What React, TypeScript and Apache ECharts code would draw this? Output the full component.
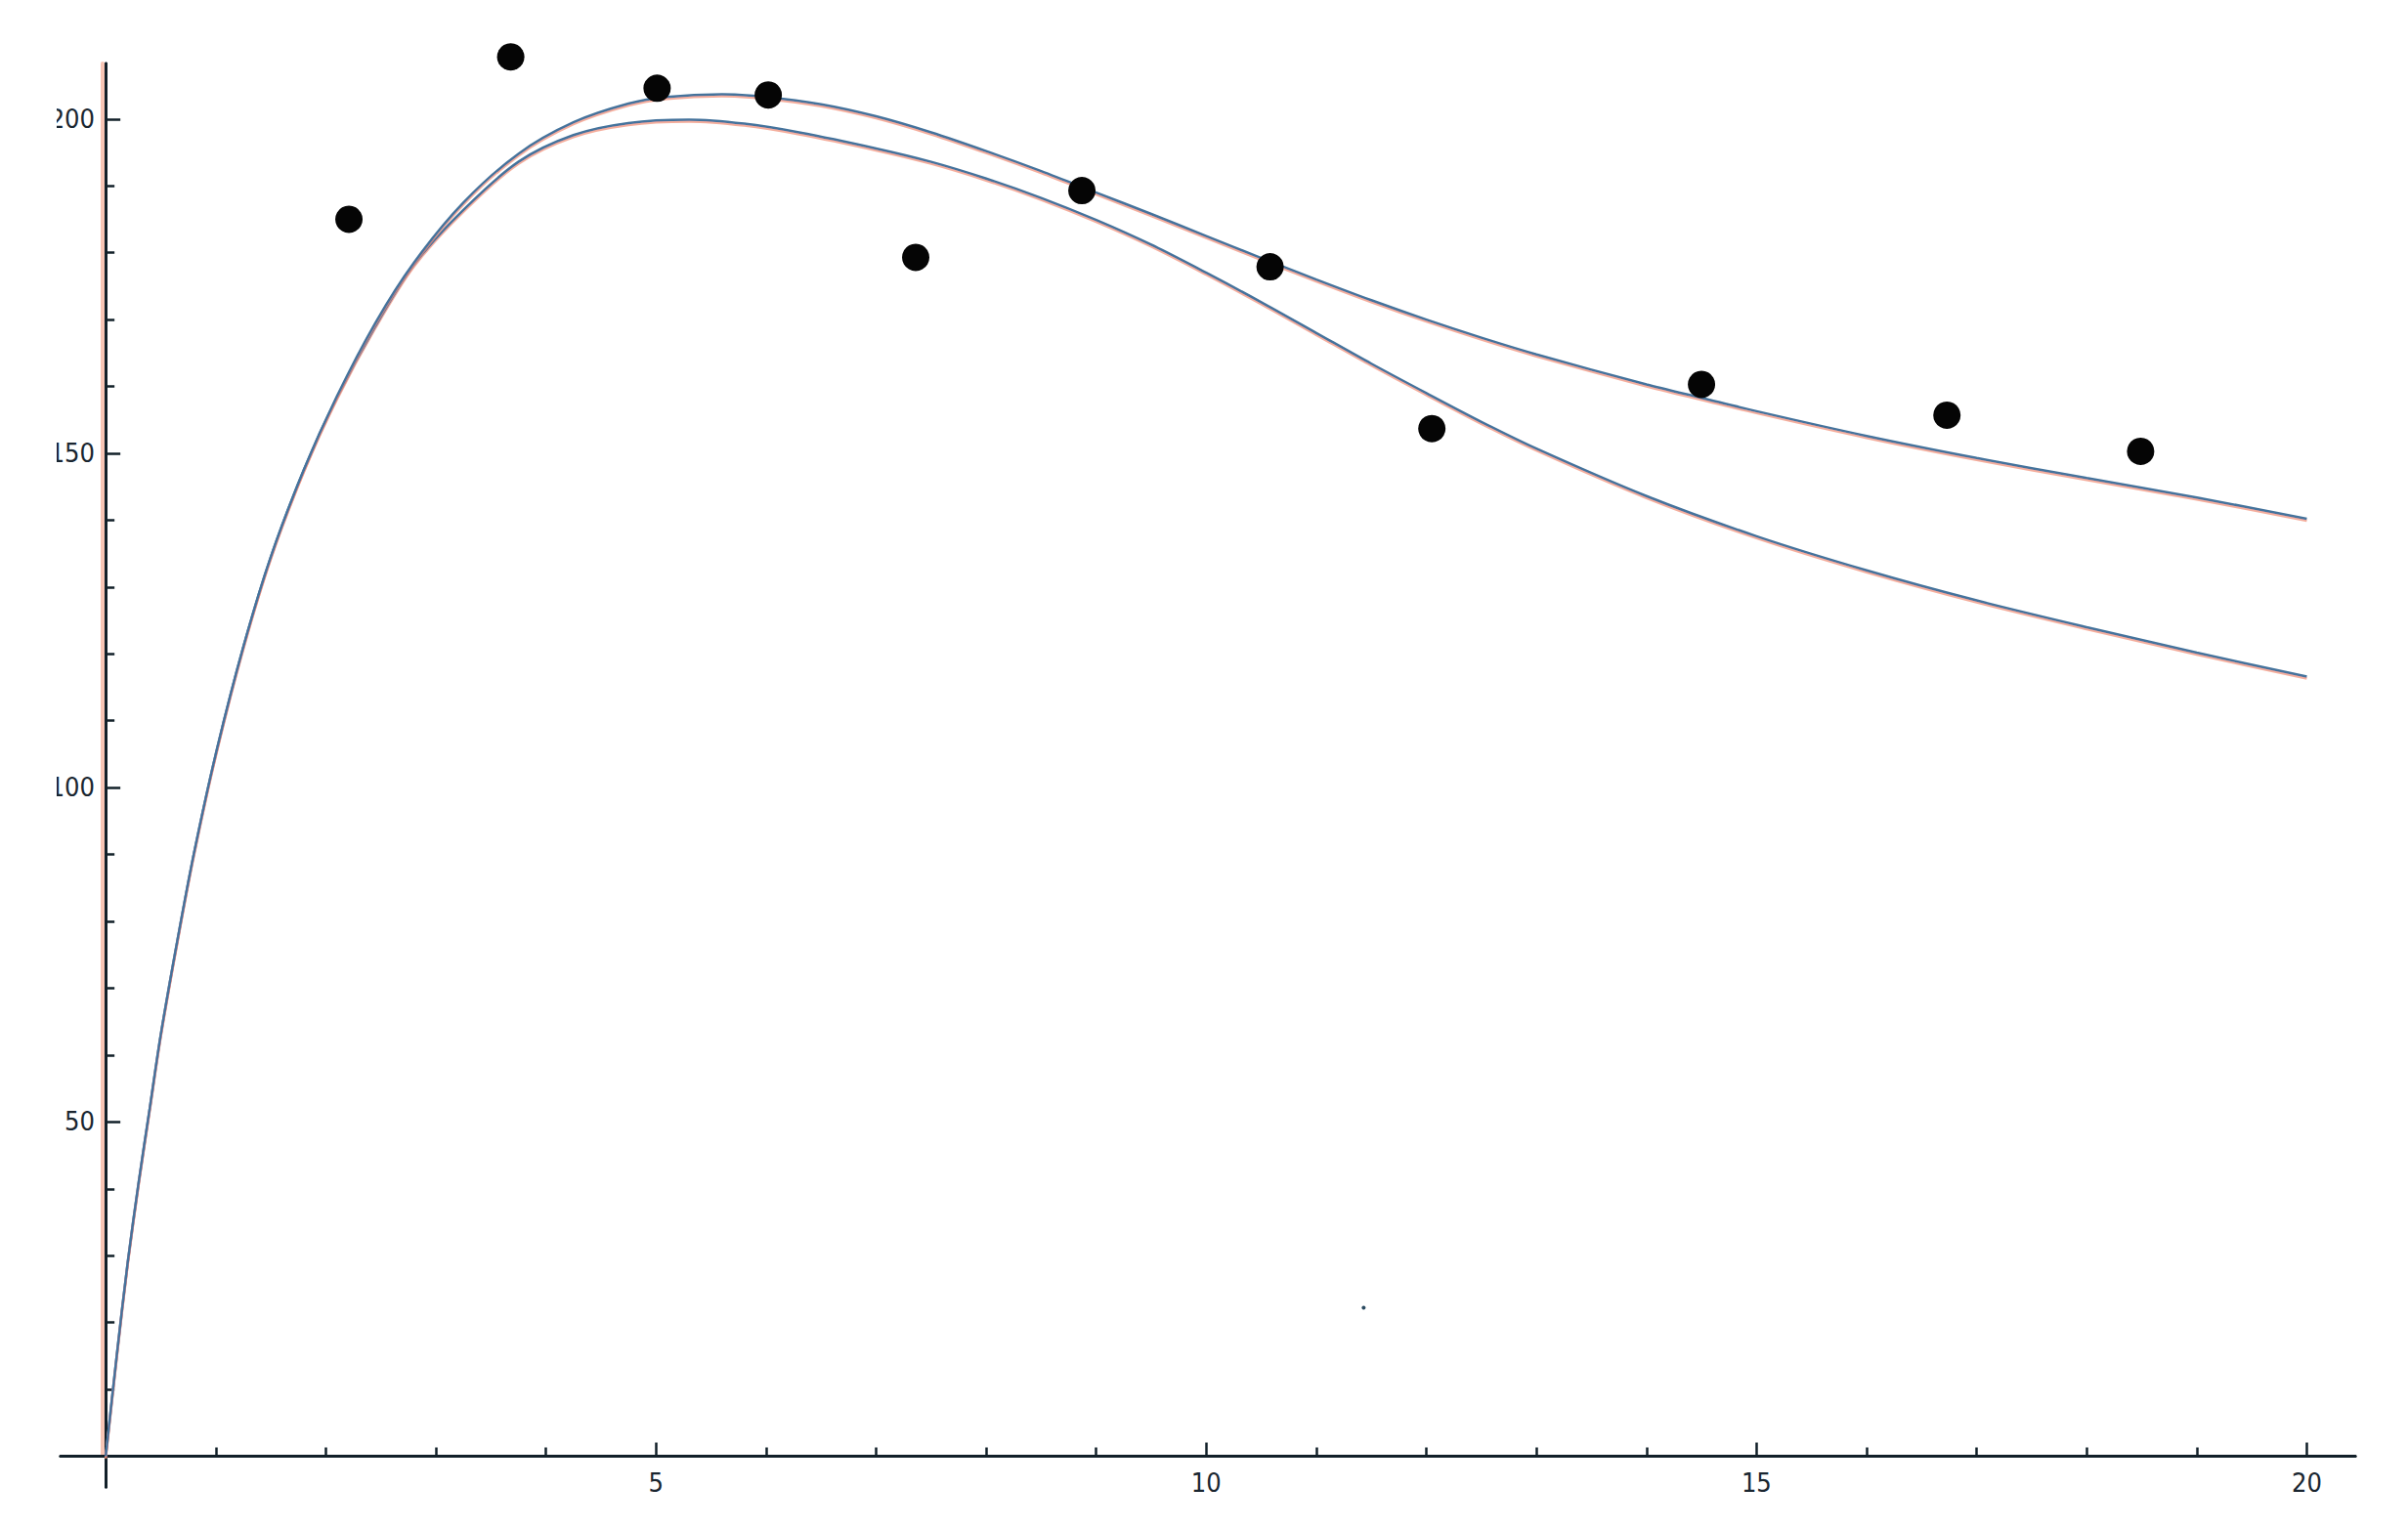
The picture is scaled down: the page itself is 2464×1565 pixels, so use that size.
import React, { useEffect, useRef } from "react";
import * as echarts from "echarts";

// Measured data points (black dots)
const pointX = [2.21, 3.68, 5.01, 6.02, 7.36, 8.87, 10.58, 12.05, 14.5, 16.73, 18.49];
const pointY = [185.0, 209.3, 204.6, 203.6, 179.3, 189.3, 177.9, 153.7, 160.3, 155.7, 150.3];

// Upper fitted curve
const upperX = [0, 0.1, 0.2, 0.3, 0.4, 0.5, 0.65, 0.8, 1.0, 1.25, 1.5, 1.8, 2.1, 2.45, 2.8, 3.25, 3.75, 4.25, 4.75, 5.1, 5.6, 6.0, 6.5, 7.0, 7.5, 8.0, 8.5, 9.0, 9.5, 10.0, 10.5, 11.0, 11.5, 12.0, 12.5, 13.0, 14.0, 14.5, 15.0, 16.0, 17.0, 18.0, 19.0, 20.0];
const upperY = [0, 15, 29, 41, 52, 63, 77, 90, 105, 121, 134.5, 147.5, 158.5, 169.5, 178.5, 187.5, 194.8, 199.5, 202.3, 203.3, 203.7, 203.3, 202.2, 200.4, 198.0, 195.2, 192.2, 189.0, 185.8, 182.5, 179.2, 176.0, 172.9, 170.0, 167.3, 164.8, 160.3, 158.3, 156.3, 152.6, 149.3, 146.3, 143.4, 140.2];

// Lower curve
const lowerX = [0, 0.1, 0.2, 0.3, 0.4, 0.5, 0.65, 0.8, 1.0, 1.25, 1.5, 1.8, 2.1, 2.45, 2.8, 3.25, 3.75, 4.25, 4.75, 5.3, 5.8, 6.3, 7.0, 7.5, 8.0, 8.5, 9.0, 9.5, 10.0, 10.5, 11.0, 11.5, 12.0, 12.5, 13.0, 14.0, 15.0, 16.0, 17.0, 18.0, 19.0, 20.0];
const lowerY = [0, 15, 29, 41, 52, 63, 77, 90, 105, 121, 134.5, 147.5, 158.3, 169.0, 178.2, 186.4, 193.6, 197.6, 199.4, 199.9, 199.3, 198.0, 195.6, 193.6, 191.1, 188.2, 184.9, 181.2, 177.0, 172.6, 168.0, 163.4, 159.0, 154.7, 150.7, 143.6, 137.6, 132.5, 128.0, 124.0, 120.2, 116.6];

// Small speck in the scan
const speckX = [11.43];
const speckY = [22.2];

// Axis ticks / labels
const xMajor = [5, 10, 15, 20];
const xMinor = [1, 2, 3, 4, 6, 7, 8, 9, 11, 12, 13, 14, 16, 17, 18, 19];
const yMajor = [50, 100, 150, 200];
const yMinor = [10, 20, 30, 40, 60, 70, 80, 90, 110, 120, 130, 140, 160, 170, 180, 190];

const zip = (xs: number[], ys: number[]) => xs.map((x, i) => [x, ys[i]]);

const AXIS_COLOR = "#122029";
const LABEL_COLOR = "#1a2630";
const LABEL_FONT = '"DejaVu Sans Condensed", "Liberation Sans Narrow", "DejaVu Sans", sans-serif';
const CURVE_COLOR = "#44739c";
const FRINGE = "rgba(240,140,115,0.7)";
const AXIS_FRINGE = "rgba(240,150,120,0.55)";

const X_MIN = -0.41;
const X_MAX = 20.44;
const Y_MIN = -4.6;
const Y_MAX = 208.3;

export default function App() {
  const ref = useRef<HTMLDivElement>(null);

  useEffect(() => {
    if (!ref.current) return;
    const chart = echarts.init(ref.current, undefined, { renderer: "svg" });

    // Grid 0: axis lines (on zero) with ticks
    const xTickAxis = (major: boolean) => ({
      type: "value" as const,
      gridIndex: 0,
      min: X_MIN,
      max: X_MAX,
      position: "bottom" as const,
      splitLine: { show: false },
      axisLine: {
        show: true,
        onZero: true,
        onZeroAxisIndex: 0,
        lineStyle: { color: AXIS_COLOR, width: 3 },
      },
      axisTick: {
        show: true,
        inside: true,
        length: major ? 14 : 9,
        customValues: major ? xMajor : xMinor,
        lineStyle: { color: AXIS_COLOR, width: 2.5 },
      },
      axisLabel: { show: false },
    });

    const yTickAxis = (major: boolean) => ({
      type: "value" as const,
      gridIndex: 0,
      min: Y_MIN,
      max: Y_MAX,
      position: "left" as const,
      splitLine: { show: false },
      axisLine: {
        show: true,
        onZero: true,
        onZeroAxisIndex: 0,
        lineStyle: { color: AXIS_COLOR, width: 3 },
      },
      axisTick: {
        show: true,
        inside: true,
        length: major ? 15 : 9,
        customValues: major ? yMajor : yMinor,
        lineStyle: { color: AXIS_COLOR, width: 2.5 },
      },
      axisLabel: { show: false },
    });

    // Grid 1: starts at the origin, carries the tick labels
    const xLabelAxis = {
      type: "value" as const,
      gridIndex: 1,
      min: 0,
      max: X_MAX,
      position: "bottom" as const,
      splitLine: { show: false },
      axisLine: { show: false, onZero: false },
      axisTick: { show: false },
      axisLabel: {
        show: true,
        customValues: xMajor,
        margin: 14,
        color: LABEL_COLOR,
        fontSize: 27,
        fontFamily: LABEL_FONT,
      },
    };

    const yLabelAxis = {
      type: "value" as const,
      gridIndex: 1,
      min: 0,
      max: Y_MAX,
      position: "left" as const,
      offset: 3.5,
      splitLine: { show: false },
      axisLine: { show: true, onZero: false, lineStyle: { color: AXIS_FRINGE, width: 4 } },
      axisTick: { show: false },
      axisLabel: {
        show: true,
        customValues: yMajor,
        margin: 7.5,
        color: LABEL_COLOR,
        fontSize: 27,
        fontFamily: LABEL_FONT,
      },
    };

    const curveStyle = {
      color: CURVE_COLOR,
      width: 2.5,
      shadowColor: FRINGE,
      shadowOffsetY: 2,
      shadowBlur: 1,
    };

    chart.setOption({
      animation: false,
      backgroundColor: "#ffffff",
      grid: [
        { left: 62, right: 54, top: 65, bottom: 43, containLabel: false },
        { left: 108, right: 54, top: 65, bottom: 75, containLabel: false },
      ],
      xAxis: [xTickAxis(true), xTickAxis(false), xLabelAxis],
      yAxis: [yTickAxis(true), yTickAxis(false), yLabelAxis],
      series: [
        {
          name: "lower",
          type: "line",
          xAxisIndex: 0,
          yAxisIndex: 0,
          data: zip(lowerX, lowerY),
          showSymbol: false,
          smooth: 0.3,
          clip: false,
          lineStyle: curveStyle,
          z: 3,
        },
        {
          name: "upper",
          type: "line",
          xAxisIndex: 0,
          yAxisIndex: 0,
          data: zip(upperX, upperY),
          showSymbol: false,
          smooth: 0.3,
          clip: false,
          lineStyle: curveStyle,
          z: 3,
        },
        {
          name: "data",
          type: "scatter",
          xAxisIndex: 0,
          yAxisIndex: 0,
          data: zip(pointX, pointY),
          symbol: "circle",
          symbolSize: 28,
          clip: false,
          itemStyle: { color: "#050505", opacity: 1 },
          z: 5,
        },
        {
          name: "speck",
          type: "scatter",
          xAxisIndex: 0,
          yAxisIndex: 0,
          data: zip(speckX, speckY),
          symbol: "circle",
          symbolSize: 4,
          clip: false,
          itemStyle: { color: "#2a4a60", opacity: 1 },
          z: 5,
        },
      ],
      graphic: [
        {
          type: "rect",
          left: 0,
          top: 0,
          z: 100,
          shape: { width: 58, height: 1565 },
          style: { fill: "#ffffff" },
        },
      ],
    });

    return () => chart.dispose();
  }, []);

  return (
    <div
      ref={ref}
      style={{ position: "fixed", left: 0, top: 0, width: 2464, height: 1565, background: "#fff" }}
    />
  );
}
